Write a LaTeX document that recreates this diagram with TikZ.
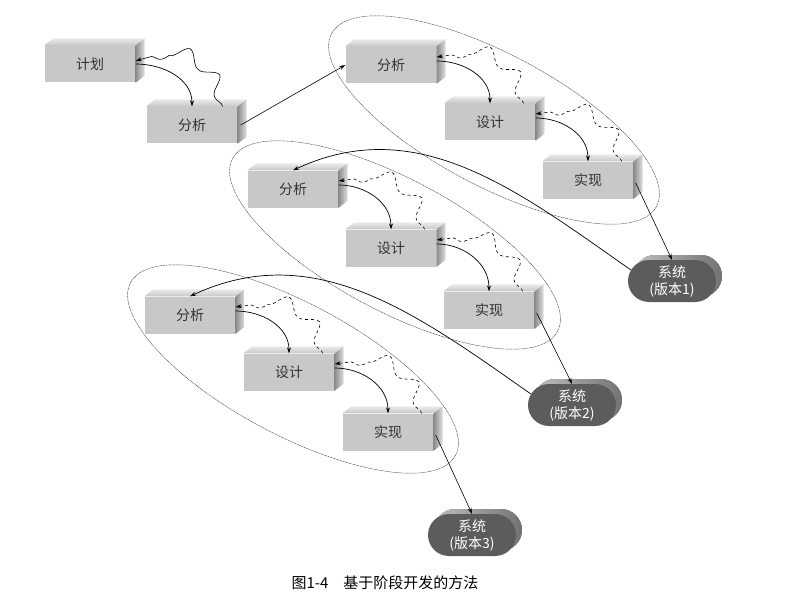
\documentclass[tikz,border=0pt]{standalone}
\usepackage{fontspec}
\newfontfamily\cjk{Noto Sans CJK SC}
\usetikzlibrary{arrows.meta,decorations.pathmorphing,shapes.misc,shadows}
\definecolor{boxfront}{RGB}{200,200,200}
\definecolor{sysfill}{RGB}{92,92,92}
\tikzset{
  stage/.style={fill=boxfront,minimum width=91pt,minimum height=37pt,inner sep=0pt,
    font=\cjk\fontsize{14}{16}\selectfont,text=black!80},
  topface/.style={top color=black!8,bottom color=black!22},
  sideface/.style={left color=black!45,right color=black!12},
  system/.style={rounded rectangle,fill=sysfill,minimum width=88pt,minimum height=42pt,inner sep=0pt,
    align=center,text=white,font=\cjk\fontsize{14}{17}\selectfont,
    copy shadow={shadow xshift=6pt,shadow yshift=5pt,left color=black!25,right color=black!55,draw=none}},
  flow/.style={-{Stealth[length=6pt,width=4pt]},line width=0.7pt},
  back/.style={-{Stealth[length=6pt,width=4pt]},line width=0.6pt,decorate,
    decoration={snake,amplitude=6.5pt,segment length=36pt,post length=5pt}},
  group/.style={dash pattern=on 1pt off 0.6pt,black!75,line width=0.45pt}
}
\begin{document}
\begin{tikzpicture}[x=1pt,y=-1pt]
\useasboundingbox (0,0) rectangle (811,599);
% increments
\draw[group,rotate around={-28:(494,120)}] (494,120) ellipse [x radius=184pt,y radius=66pt];
\draw[group,rotate around={-28:(395,245)}] (395,245) ellipse [x radius=184pt,y radius=66pt];
\draw[group,rotate around={-28:(293,369)}] (293,369) ellipse [x radius=184pt,y radius=66pt];
% stages
\node[stage] (plan) at (90,64) {计划};
\node[stage] (ana0) at (192,125) {分析};
\node[stage] (ana1) at (391,65) {分析};
\node[stage] (des1) at (490,122) {设计};
\node[stage] (imp1) at (588,180) {实现};
\node[stage] (ana2) at (293,189) {分析};
\node[stage] (des2) at (391,248) {设计};
\node[stage] (imp2) at (489,310) {实现};
\node[stage] (ana3) at (190,315) {分析};
\node[stage] (des3) at (289,372) {设计};
\node[stage] (imp3) at (388,432) {实现};
\foreach \b in {plan,ana0,ana1,des1,imp1,ana2,des2,imp2,ana3,des3,imp3}{
  \shade[topface] (\b.north west) -- ++(9,-7) -- ([shift={(9,-7)}]\b.north east) -- (\b.north east) -- cycle;
  \shade[sideface] (\b.north east) -- ++(9,-7) -- ([shift={(9,-7)}]\b.south east) -- (\b.south east) -- cycle;
}
\node[system] (sys1) at (672,281) {系统\\(版本1)};
\node[system] (sys2) at (572,405) {系统\\(版本2)};
\node[system] (sys3) at (472,535) {系统\\(版本3)};
% connectors
\draw[flow] (plan.east) to[out=0,in=90] (ana0.north);
\draw[back] ([xshift=-15]ana0.north east) to[out=100,in=20] ([yshift=3]plan.east);
\draw[flow,line width=0.6pt] ([xshift=3]ana0.east) -- (ana1.west);
\draw[flow] ([yshift=4]ana1.east) to[out=0,in=90] (des1.north);
\draw[back,dashed] ([xshift=-12]des1.north east) to[out=100,in=10] ([yshift=8]ana1.east);
\draw[flow] ([yshift=4]des1.east) to[out=0,in=90] (imp1.north);
\draw[back,dashed] ([xshift=-12]imp1.north east) to[out=100,in=10] ([yshift=8]des1.east);
\draw[flow,line width=0.6pt] ([shift={(2,3)}]imp1.east) -- (sys1.north);
\draw[flow] (sys1.165) to[out=145,in=25] (ana2.north);
\draw[flow] ([yshift=4]ana2.east) to[out=0,in=90] (des2.north);
\draw[back,dashed] ([xshift=-12]des2.north east) to[out=100,in=10] ([yshift=8]ana2.east);
\draw[flow] ([yshift=4]des2.east) to[out=0,in=90] (imp2.north);
\draw[back,dashed] ([xshift=-12]imp2.north east) to[out=100,in=10] ([yshift=8]des2.east);
\draw[flow,line width=0.6pt] ([shift={(2,3)}]imp2.east) -- (sys2.north);
\draw[flow] (sys2.165) to[out=145,in=25] (ana3.north);
\draw[flow] ([yshift=4]ana3.east) to[out=0,in=90] (des3.north);
\draw[back,dashed] ([xshift=-12]des3.north east) to[out=100,in=10] ([yshift=8]ana3.east);
\draw[flow] ([yshift=4]des3.east) to[out=0,in=90] (imp3.north);
\draw[back,dashed] ([xshift=-12]imp3.north east) to[out=100,in=10] ([yshift=8]des3.east);
\draw[flow,line width=0.6pt] ([shift={(2,3)}]imp3.east) -- (sys3.north);
% caption
\node[font=\cjk\fontsize{15}{17}\selectfont] (caption) at (385,583) {图1-4\quad 基于阶段开发的方法};
\end{tikzpicture}
\end{document}
